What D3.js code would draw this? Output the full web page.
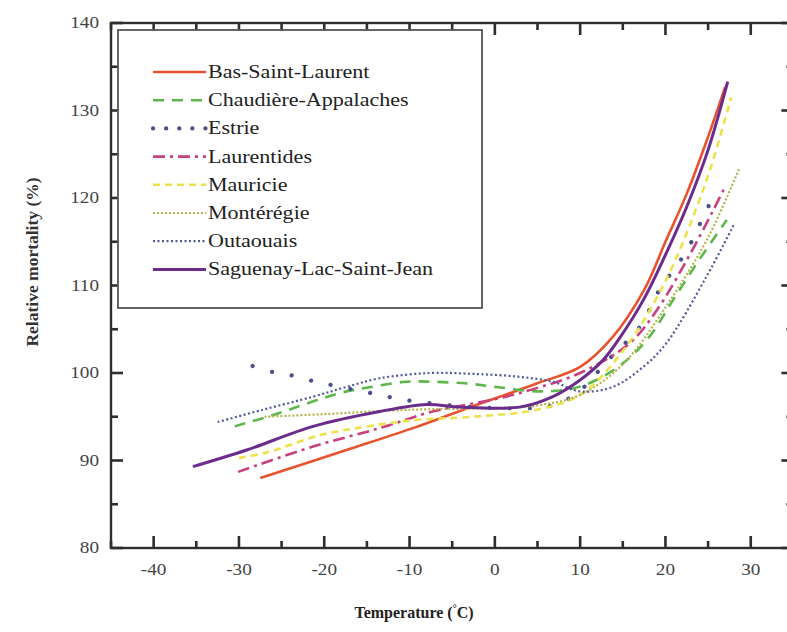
<!DOCTYPE html>
<html>
<head>
<meta charset="utf-8">
<script src="https://cdn.jsdelivr.net/npm/d3@7"></script>
<style>
  html, body { margin: 0; padding: 0; background: #fff; }
  svg { display: block; }
</style>
</head>
<body>
<svg id="chart" width="787" height="632"></svg>
<script>
// ---- data (Temperature °C, Relative mortality %) ----
const seriesNames = ["Bas-Saint-Laurent", "Chaudière-Appalaches", "Estrie", "Laurentides",
  "Mauricie", "Montérégie", "Outaouais", "Saguenay-Lac-Saint-Jean"];

const basSaintLaurent = [[-27.5, 88.0], [-17.4, 91.2], [-9.6, 93.7], [-3.7, 95.8], [4.9, 98.8],
  [10.0, 100.7], [13.8, 104.1], [17.5, 109.5], [20, 115.0], [22.5, 120.5], [25, 127.0], [27, 132.7]];
const chaudiereAppalaches = [[-30.5, 93.9], [-26.0, 95.2], [-18.2, 97.7], [-14.5, 98.4], [-10.4, 99.0],
  [-7.3, 99.0], [-3.3, 98.8], [0.2, 98.4], [4.9, 97.9], [9, 98.2], [11.9, 99.2], [15.0, 101.1],
  [18, 104.0], [21, 108.5], [24, 113.0], [27.2, 117.5]];
const estrie = [[-28.4, 100.8], [-26.0, 100.1], [-23.7, 99.7], [-21.4, 99.1], [-19.0, 98.6],
  [-14.5, 97.7], [-10.4, 96.9], [-4, 96.2], [0, 96.0], [6.8, 96.3], [10, 98.0], [13.1, 101.3],
  [17.0, 105.3], [19.3, 109.5], [22.5, 114.0], [24.8, 118.6], [26.2, 121.1]];
const laurentides = [[-30.1, 88.7], [-21.3, 91.6], [-13.5, 93.7], [-7.3, 95.6], [0, 97.0],
  [5, 98.3], [10, 100.0], [15.8, 103.4], [19.0, 107.2], [22.5, 112.9], [25.6, 118.6], [27.0, 121.3]];
const mauricie = [[-30, 90.3], [-26.8, 90.9], [-20.5, 92.9], [-16.2, 93.7], [-9.6, 94.6],
  [-2.6, 95.0], [4.9, 95.8], [10, 97.5], [15, 102.5], [20, 110.5], [24.8, 122.0], [27.7, 131.5]];
const monteregie = [[-27, 95.0], [-20, 95.3], [-10, 95.8], [0, 96.0], [5, 96.3], [10, 97.5],
  [15, 101.0], [20, 107.5], [25, 115.5], [28.7, 123.5]];
const outaouais = [[-32.5, 94.4], [-27.2, 95.8], [-21.3, 97.3], [-17.4, 98.4], [-13.5, 99.4],
  [-7.6, 100.0], [-2.6, 99.9], [2.5, 99.6], [6.8, 99.0], [10.0, 97.9], [13.8, 98.4],
  [17.4, 100.7], [20.1, 103.4], [24.8, 111.0], [28.1, 117.1]];
const saguenay = [[-35.4, 89.3], [-29.1, 91.2], [-21.3, 93.9], [-13.5, 95.6], [-8.0, 96.4],
  [-4.1, 96.1], [2.9, 96.1], [6.8, 97.3], [10.0, 99.2], [12.7, 101.5], [14.7, 104.1],
  [17.5, 108.5], [20, 113.5], [22.5, 119.0], [25, 125.5], [27.3, 133.3]];

const xTickValues = [-40, -30, -20, -10, 0, 10, 20, 30];
const xTickLabels = ["-40", "-30", "-20", "-10", "0", "10", "20", "30"];
const yTickValues = [80, 90, 100, 110, 120, 130, 140];
const yTickLabels = ["80", "90", "100", "110", "120", "130", "140"];

(function draw() {
const serif = "'Liberation Serif', 'DejaVu Serif', serif";
const styles = [
  { data: basSaintLaurent, color: "#e8532e", width: 2.6, dash: null, ldash: null, cap: "butt" },
  { data: chaudiereAppalaches, color: "#5db84c", width: 2.6, dash: "11,8", ldash: "11,8", cap: "butt" },
  { data: estrie, color: "#4b4f8c", width: 4.2, dash: "0.1,20", ldash: "0.1,13", cap: "round" },
  { data: laurentides, color: "#c8407e", width: 2.6, dash: "12,5,3,5", ldash: "12,5,3,5", cap: "butt" },
  { data: mauricie, color: "#ece34a", width: 2.6, dash: "7,5", ldash: "7,5", cap: "butt" },
  { data: monteregie, color: "#b4b24a", width: 2.2, dash: "2,2", ldash: "2,2", cap: "butt" },
  { data: outaouais, color: "#52589e", width: 2.2, dash: "2,2.5", ldash: "2,2.5", cap: "butt" },
  { data: saguenay, color: "#6b2c8c", width: 3.0, dash: null, ldash: null, cap: "butt" }
];

const svg = d3.select("#chart");
const pLeft = 111, pRight = 793.4, pTop = 23, pBottom = 548;
const x = d3.scaleLinear().domain([-45, 35]).range([pLeft, pRight]);
const y = d3.scaleLinear().domain([80, 140]).range([pBottom, pTop]);
const axisColor = "#2e2e2e";

svg.append("defs").append("clipPath").attr("id", "clip")
  .append("rect").attr("x", pLeft).attr("y", pTop).attr("width", pRight - pLeft).attr("height", pBottom - pTop);

// curves
const line = d3.line().x(d => x(d[0])).y(d => y(d[1])).curve(d3.curveCatmullRom.alpha(0.5));
const curves = svg.append("g").attr("clip-path", "url(#clip)");
styles.forEach(s => {
  curves.append("path")
    .attr("d", line(s.data))
    .attr("fill", "none")
    .attr("stroke", s.color)
    .attr("stroke-width", s.width)
    .attr("stroke-dasharray", s.dash)
    .attr("stroke-linecap", s.cap);
});

// ticks (inward), drawn from the scales as small filled rects
const xMinor = d3.range(-45, 36, 5).filter(v => v % 10 !== 0);
const yMinor = d3.range(85, 140, 10);
const tw = 2.6;
const xTicks = xTickValues.map(v => ({ v, len: 12 })).concat(xMinor.map(v => ({ v, len: 7 })));
const yTicks = yTickValues.map(v => ({ v, len: 12 })).concat(yMinor.map(v => ({ v, len: 7 })));
const tg = svg.append("g").attr("fill", axisColor);
xTicks.forEach(d => {
  tg.append("rect").attr("x", x(d.v) - tw / 2).attr("y", pBottom - d.len).attr("width", tw).attr("height", d.len);
  tg.append("rect").attr("x", x(d.v) - tw / 2).attr("y", pTop).attr("width", tw).attr("height", d.len);
});
yTicks.forEach(d => {
  tg.append("rect").attr("x", pLeft).attr("y", y(d.v) - tw / 2).attr("width", d.len).attr("height", tw);
  tg.append("rect").attr("x", pRight - d.len).attr("y", y(d.v) - tw / 2).attr("width", d.len).attr("height", tw);
});

// tick labels
svg.append("g").selectAll("text").data(xTickValues).join("text")
  .attr("transform", d => `translate(${x(d)},${pBottom + 27}) scale(1.2,1)`)
  .attr("text-anchor", "middle").attr("font-family", serif).attr("font-size", 16)
  .attr("fill", "#444").text((d, i) => xTickLabels[i]);
svg.append("g").selectAll("text").data(yTickValues).join("text")
  .attr("transform", d => `translate(${pLeft - 12},${y(d) + 5}) scale(1.2,1)`)
  .attr("text-anchor", "end").attr("font-family", serif).attr("font-size", 16)
  .attr("fill", "#444").text((d, i) => yTickLabels[i]);

// frame
svg.append("rect").attr("x", pLeft).attr("y", pTop).attr("width", pRight - pLeft).attr("height", pBottom - pTop)
  .attr("fill", "none").attr("stroke", axisColor).attr("stroke-width", 2.4);

// legend
const legend = svg.append("g");
legend.append("rect").attr("x", 118).attr("y", 30).attr("width", 364).attr("height", 278)
  .attr("fill", "#fff").attr("stroke", "#555").attr("stroke-width", 1.8);
styles.forEach((s, i) => {
  const ly = 72 + i * 28.2;
  legend.append("line").attr("x1", 153).attr("x2", 206).attr("y1", ly).attr("y2", ly)
    .attr("stroke", s.color).attr("stroke-width", s.width)
    .attr("stroke-dasharray", s.ldash).attr("stroke-linecap", s.cap);
  legend.append("text").attr("transform", `translate(208,${ly + 6}) scale(1.16,1)`)
    .attr("font-family", serif).attr("font-size", 19).attr("fill", "#222").text(seriesNames[i]);
});

// axis titles
const xt = svg.append("text").attr("x", 414).attr("y", 618).attr("text-anchor", "middle")
  .attr("font-family", serif).attr("font-size", 16).attr("font-weight", "bold").attr("fill", "#222");
xt.append("tspan").text("Temperature (");
xt.append("tspan").attr("font-size", 10).attr("dy", -6).text("°");
xt.append("tspan").attr("dy", 6).text("C)");

svg.append("text").attr("transform", "translate(38,262) rotate(-90)").attr("text-anchor", "middle")
  .attr("font-family", serif).attr("font-size", 17.5).attr("font-weight", "bold").attr("fill", "#333")
  .text("Relative mortality (%)");
})();
</script>
</body>
</html>
